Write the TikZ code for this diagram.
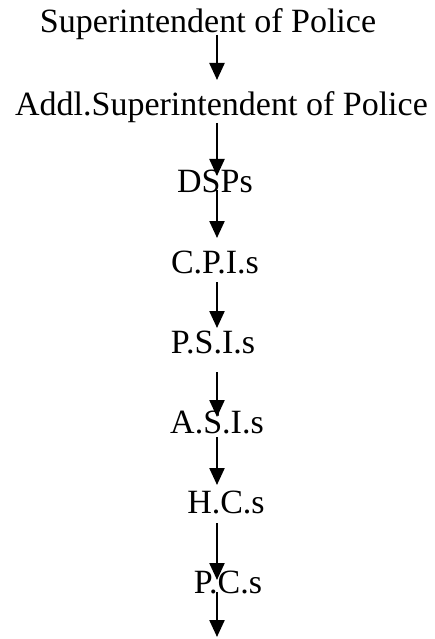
\documentclass[tikz,border=0pt]{standalone}
\usepackage{fontspec}
\setmainfont{Liberation Serif}
\usetikzlibrary{arrows.meta}
\begin{document}
\begin{tikzpicture}[x=1pt,y=1pt,
  rank/.style={inner sep=0pt,anchor=base,font=\fontsize{34}{40}\selectfont},
  arr/.style={line width=2.3pt,-{Triangle[length=17pt,width=15pt]}}]
\useasboundingbox (0,0) rectangle (434,-639);
\node[rank] (sp)  at (208,-33)  {Superintendent of Police};
\node[rank] (asp) at (221.5,-116) {Addl.Superintendent of Police};
\node[rank] (dsp) at (215,-193) {DSPs};
\node[rank] (cpi) at (215,-273) {C.P.I.s};
\node[rank] (psi) at (213,-353) {P.S.I.s};
\node[rank] (asi) at (217,-433) {A.S.I.s};
\node[rank] (hc)  at (226,-513) {H.C.s};
\node[rank] (pc)  at (228,-593) {P.C.s};
\coordinate (a1s) at (217,-35);  \coordinate (a1e) at (217,-80);
\coordinate (a2s) at (217,-123); \coordinate (a2e) at (217,-176);
\coordinate (a3s) at (217,-190); \coordinate (a3e) at (217,-238);
\coordinate (a4s) at (217,-282); \coordinate (a4e) at (217,-328);
\coordinate (a5s) at (217,-372); \coordinate (a5e) at (217,-417);
\coordinate (a6s) at (217,-437); \coordinate (a6e) at (217,-485);
\coordinate (a7s) at (217,-523); \coordinate (a7e) at (217,-580);
\coordinate (a8s) at (217,-592); \coordinate (a8e) at (217,-637);
\draw[arr] (a1s) -- (a1e);
\draw[arr] (a2s) -- (a2e);
\draw[arr] (a3s) -- (a3e);
\draw[arr] (a4s) -- (a4e);
\draw[arr] (a5s) -- (a5e);
\draw[arr] (a6s) -- (a6e);
\draw[arr] (a7s) -- (a7e);
\draw[arr] (a8s) -- (a8e);
\end{tikzpicture}
\end{document}
